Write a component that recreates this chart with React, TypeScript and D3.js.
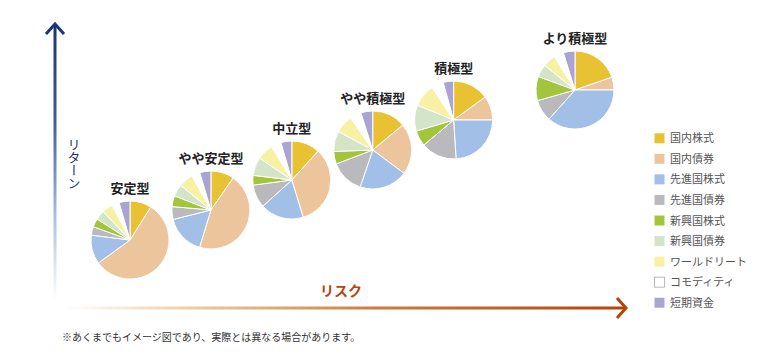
import { FC, useEffect, useRef } from 'react';
import * as d3 from 'd3';

// 資産クラス（凡例の順）
const assetClasses = [
  '国内株式',
  '国内債券',
  '先進国株式',
  '先進国債券',
  '新興国株式',
  '新興国債券',
  'ワールドリート',
  'コモディティ',
  '短期資金',
];
const assetColors = [
  '#e8c232',
  '#edc59d',
  '#a2bfe7',
  '#b9b9be',
  '#a3c53c',
  '#d4e4c9',
  '#f6f1a3',
  '#ffffff',
  '#aaa4d2',
];

// ポートフォリオ
const portfolios = ['安定型', 'やや安定型', '中立型', 'やや積極型', '積極型', 'より積極型'];
const riskLevel = [1, 2, 3, 4, 5, 6.5];
const returnLevel = [1, 2, 3, 4, 5, 6];

// 配分（%）
const alloc安定型 = [9, 56, 12, 3.5, 3.5, 4, 4.5, 3, 4.5];
const allocやや安定型 = [9.7, 45, 16.4, 5.3, 4.5, 5, 6, 3.5, 4.6];
const alloc中立型 = [11.8, 33.5, 18, 9.6, 4, 7.6, 6.8, 4.2, 4.5];
const allocやや積極型 = [14, 21.2, 20, 14, 5.2, 8.5, 7.5, 4.7, 4.9];
const alloc積極型 = [15, 10, 24, 14.9, 6.5, 10.8, 9.5, 5, 4.3];
const allocより積極型 = [19.7, 5.3, 36.6, 9, 10, 5.3, 5.3, 4, 4.8];
const allocations = [alloc安定型, allocやや安定型, alloc中立型, allocやや積極型, alloc積極型, allocより積極型];

const xLabel = 'リスク';
const yLabel = 'リターン';
const note = '※あくまでもイメージ図であり、実際とは異なる場合があります。';

const W = 773;
const H = 361;
const FONT = '"Noto Sans CJK JP", "Noto Sans", sans-serif';

export const RiskReturnPies: FC = () => {
  const ref = useRef<SVGSVGElement | null>(null);

  useEffect(() => {
    if (!ref.current) return;
    const svg = d3.select(ref.current);
    svg.selectAll('*').remove();

    const defs = svg.append('defs');
    // 縦軸のグラデーション（ユーザー座標で指定、線の幅がゼロでも効くように）
    const gy = defs
      .append('linearGradient')
      .attr('id', 'gradY')
      .attr('gradientUnits', 'userSpaceOnUse')
      .attr('x1', 0)
      .attr('y1', 300)
      .attr('x2', 0)
      .attr('y2', 24);
    gy.append('stop').attr('offset', '0%').attr('stop-color', '#ffffff');
    gy.append('stop').attr('offset', '30%').attr('stop-color', '#a9c0e2');
    gy.append('stop').attr('offset', '65%').attr('stop-color', '#3d5c9a');
    gy.append('stop').attr('offset', '100%').attr('stop-color', '#1b3475');

    const gx = defs
      .append('linearGradient')
      .attr('id', 'gradX')
      .attr('gradientUnits', 'userSpaceOnUse')
      .attr('x1', 66)
      .attr('y1', 0)
      .attr('x2', 628)
      .attr('y2', 0);
    gx.append('stop').attr('offset', '0%').attr('stop-color', '#ffffff');
    gx.append('stop').attr('offset', '20%').attr('stop-color', '#f0d3a5');
    gx.append('stop').attr('offset', '55%').attr('stop-color', '#cf7b3e');
    gx.append('stop').attr('offset', '100%').attr('stop-color', '#b6420c');

    // 軸
    svg
      .append('rect')
      .attr('x', 53.5)
      .attr('y', 24)
      .attr('width', 3)
      .attr('height', 275)
      .attr('fill', 'url(#gradY)');
    svg
      .append('path')
      .attr('d', 'M46,34 L55,24 L64,34')
      .attr('fill', 'none')
      .attr('stroke', '#1b3475')
      .attr('stroke-width', 3);

    svg
      .append('rect')
      .attr('x', 66)
      .attr('y', 306.5)
      .attr('width', 560)
      .attr('height', 3)
      .attr('fill', 'url(#gradX)');
    svg
      .append('path')
      .attr('d', 'M617,298 L626,308 L617,318')
      .attr('fill', 'none')
      .attr('stroke', '#b6420c')
      .attr('stroke-width', 3);

    svg
      .append('text')
      .attr('x', 341)
      .attr('y', 296)
      .attr('text-anchor', 'middle')
      .attr('font-family', FONT)
      .attr('font-size', 14)
      .attr('font-weight', 'bold')
      .attr('fill', '#b6460e')
      .text(xLabel);

    svg
      .append('text')
      .attr('x', 74)
      .attr('y', 138)
      .attr('font-family', FONT)
      .attr('font-size', 13)
      .attr('fill', '#1b3475')
      .style('writing-mode', 'vertical-rl')
      .text(yLabel);

    svg
      .append('text')
      .attr('x', 62)
      .attr('y', 341)
      .attr('font-family', FONT)
      .attr('font-size', 10)
      .attr('fill', '#333')
      .text(note);

    // パイ
    const xScale = d3.scaleLinear().domain([1, 6.5]).range([130, 575]);
    const yScale = d3.scaleLinear().domain([1, 6]).range([240, 90]);
    const radius = 39;
    const pie = d3
      .pie<number>()
      .sort(null)
      .value((d) => d);
    const arc = d3.arc<d3.PieArcDatum<number>>().innerRadius(0).outerRadius(radius);

    portfolios.forEach((name, i) => {
      const g = svg
        .append('g')
        .attr('transform', `translate(${xScale(riskLevel[i])},${yScale(returnLevel[i])})`);
      g.selectAll('path')
        .data(pie(allocations[i]))
        .enter()
        .append('path')
        .attr('d', arc)
        .attr('fill', (_d, j) => assetColors[j])
        .attr('stroke', '#ffffff')
        .attr('stroke-width', 1);
      g.append('text')
        .attr('x', 0)
        .attr('y', -radius - 8)
        .attr('text-anchor', 'middle')
        .attr('font-family', FONT)
        .attr('font-size', 13)
        .attr('font-weight', 'bold')
        .attr('fill', '#222')
        .text(name);
    });

    // 凡例
    const legendY = d3
      .scaleBand()
      .domain(assetClasses)
      .range([128, 313]);
    const lg = svg
      .selectAll('g.legend')
      .data(assetClasses)
      .enter()
      .append('g')
      .attr('class', 'legend')
      .attr('transform', (d) => `translate(654,${legendY(d)! + legendY.bandwidth() / 2})`);
    lg.append('rect')
      .attr('x', 0.5)
      .attr('y', -5)
      .attr('width', 10)
      .attr('height', 10)
      .attr('fill', (_d, j) => assetColors[j])
      .attr('stroke', (_d, j) => (assetColors[j] === '#ffffff' ? '#aaa' : 'none'))
      .attr('stroke-width', 0.8);
    lg.append('text')
      .attr('x', 16)
      .attr('y', 4)
      .attr('font-family', FONT)
      .attr('font-size', 11)
      .attr('fill', '#555')
      .text((d) => d);
  }, []);

  return (
    <svg
      ref={ref}
      width={W}
      height={H}
      style={{ position: 'absolute', left: 0, top: 0, background: '#fff' }}
    />
  );
};

export default function App() {
  return <RiskReturnPies />;
}
